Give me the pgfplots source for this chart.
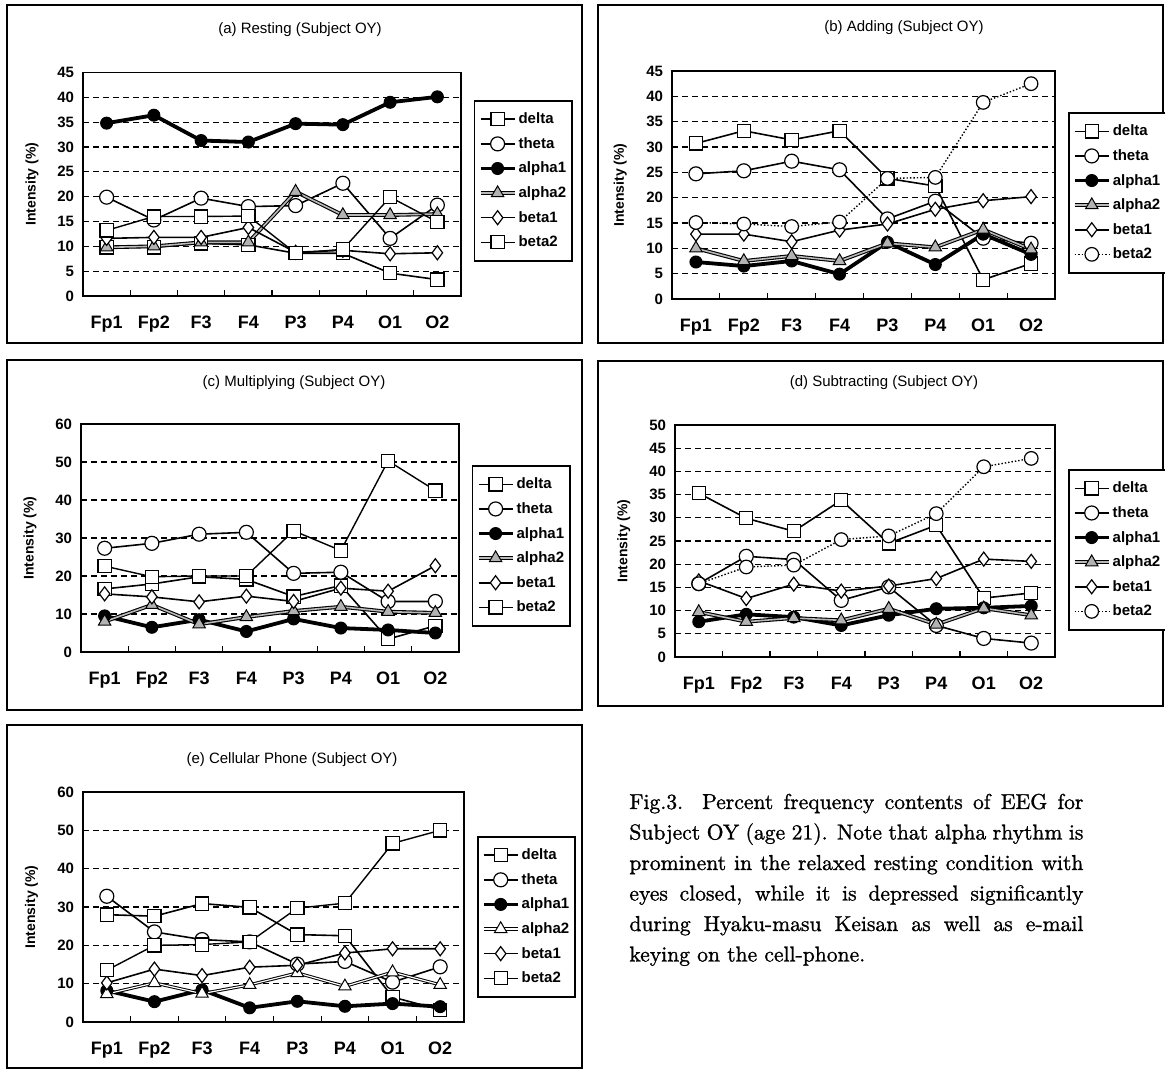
\documentclass[border=0pt]{standalone}
\usepackage{fontspec}
\newfontfamily\sans{Liberation Sans}
\newfontfamily\capfont[FakeBold=1.2]{Latin Modern Roman}
\usepackage{pgfplots}
\usepackage{pgfplotstable}
\pgfplotsset{compat=1.18}

\pgfplotstableread{
x delta theta alphaA alphaB betaA betaB
0 9.8 19.9 34.8 9.8 11.6 13.2
1 9.8 15.3 36.4 10.0 11.8 16.0
2 10.6 19.7 31.3 10.8 11.8 16.0
3 10.3 18.0 31.0 10.8 13.8 16.1
4 8.6 18.2 34.7 21.0 8.8 8.6
5 8.6 22.7 34.5 16.3 9.2 9.4
6 4.6 11.6 39.0 16.3 8.5 19.9
7 3.3 18.3 40.1 16.5 8.7 14.9
}\tabA
\pgfplotstableread{
x delta theta alphaA alphaB betaA betaB
0 30.7 24.7 7.3 10.0 12.8 15.1
1 33.2 25.3 6.5 7.5 12.8 14.8
2 31.4 27.2 7.5 8.5 11.3 14.3
3 33.2 25.5 4.9 7.5 13.6 15.2
4 23.8 15.8 11.2 11.0 14.8 23.8
5 22.3 19.3 6.8 10.2 17.7 24.0
6 3.8 12.0 12.8 13.7 19.4 38.8
7 7.0 11.0 8.8 9.8 20.2 42.5
}\tabB
\pgfplotstableread{
x delta theta alphaA alphaB betaA betaB
0 16.6 27.3 9.5 8.0 15.3 22.6
1 17.9 28.6 6.5 12.4 14.5 19.8
2 19.8 31.0 8.5 7.3 13.2 20.0
3 19.1 31.5 5.4 9.2 14.7 20.0
4 14.6 20.7 8.7 10.8 13.3 31.9
5 17.5 21.0 6.3 11.9 16.8 26.7
6 3.4 13.3 5.8 10.6 16.0 50.3
7 6.9 13.3 5.0 10.3 22.7 42.5
}\tabC
\pgfplotstableread{
x delta theta alphaA alphaB betaA betaB
0 35.3 15.8 7.6 9.7 16.4 15.8
1 29.9 21.7 9.2 7.6 12.6 19.4
2 27.1 21.0 8.6 8.4 15.7 19.8
3 33.8 12.2 6.8 7.9 14.2 25.3
4 24.5 15.1 9.0 10.4 15.3 26.1
5 28.4 6.8 10.4 7.0 16.9 30.9
6 12.7 4.0 10.6 10.5 21.1 41.0
7 13.8 3.0 11.0 9.0 20.6 42.8
}\tabD
\pgfplotstableread{
x delta theta alphaA alphaB betaA betaB
0 28.0 32.8 8.2 7.3 10.2 13.5
1 27.6 23.5 5.3 10.2 13.8 20.0
2 30.9 21.5 8.4 7.4 12.1 20.2
3 29.9 20.9 3.7 9.7 14.3 20.9
4 22.8 15.1 5.4 12.8 14.8 29.7
5 22.5 15.8 4.1 9.3 18.0 31.0
6 6.5 10.4 4.8 13.0 19.1 46.6
7 3.2 14.4 4.0 9.7 19.1 50.0
}\tabE

\pgfplotsset{
  sdelta/.style={black, line width=0.8pt, mark=square*, mark size=3.3pt, mark options={solid, fill=white, line width=0.6pt}},
  stheta/.style={black, line width=0.8pt, mark=*, mark size=3.5pt, mark options={solid, fill=white, line width=0.6pt}},
  salphaA/.style={black, line width=1.9pt, mark=*, mark size=3pt, mark options={solid, fill=black, line width=0.5pt}},
  salphaB/.style={black, line width=0.55pt, double=gray!55, double distance=0.8pt, mark=triangle*, mark size=3.6pt, mark options={solid, fill=gray!60, draw=black, line width=0.5pt}},
  salphaBw/.style={black, line width=0.5pt, double=white, double distance=0.6pt, mark=triangle*, mark size=3.6pt, mark options={solid, fill=white, draw=black, line width=0.5pt}},
  sbetaA/.style={black, line width=0.8pt, mark=diamond*, mark size=3.5pt, mark options={solid, fill=white, line width=0.6pt}},
  sbetaB/.style={black, line width=0.7pt, mark=square*, mark size=3.3pt, mark options={solid, fill=white, line width=0.6pt}},
  sbetaBd/.style={black, line width=0.7pt, densely dotted, mark=*, mark size=3.4pt, mark options={solid, fill=white, line width=0.6pt}},
  eeg/.style={
    scale only axis,
    xmin=-0.5, xmax=7.5, ymin=0,
    xtick={-0.5,0.5,1.5,2.5,3.5,4.5,5.5,6.5,7.5},
    x tick label as interval,
    xticklabels={Fp1,Fp2,F3,F4,P3,P4,O1,O2},
    xtick pos=bottom,
    xtick align=inside,
    major tick length=3pt,
    x tick style={draw=black, line width=0.6pt},
    y tick style={draw=none},
    ymajorgrids,
    y grid style={black, line width=0.6pt, dash pattern=on 3.2pt off 1.8pt},
    axis line style={line width=0.8pt},
    xticklabel style={font=\sans\bfseries\fontsize{9}{10}\selectfont, yshift=-6.5pt},
    yticklabel style={font=\sans\bfseries\fontsize{7.5}{8}\selectfont, /pgf/number format/assume math mode=true, xshift=-1pt},
    ylabel={Intensity (\%)},
    ylabel style={at={(axis description cs:-0.135,0.5)}, anchor=center, font=\sans\bfseries\fontsize{7}{8}\selectfont},
    legend cell align=left,
    legend style={anchor=north west, draw=black, line width=0.8pt,
      font=\sans\bfseries\fontsize{7.5}{8}\selectfont,
      inner xsep=2pt, inner ysep=4.5pt, row sep=2.8pt,
      nodes={inner sep=1pt, text height=6pt, text depth=1.5pt}},
  },
}

\begin{document}
\begin{tikzpicture}
\useasboundingbox (0,0) rectangle (582.5pt,535pt);
% panel frames
\draw[line width=0.8pt] (3.5pt,363.5pt) rectangle (291pt,532.5pt);
\draw[line width=0.8pt] (299pt,363.5pt) rectangle (581.5pt,532.5pt);
\draw[line width=0.8pt] (3.5pt,180pt) rectangle (291pt,355pt);
\draw[line width=0.8pt] (299pt,182pt) rectangle (581.5pt,354.5pt);
\draw[line width=0.8pt] (3.5pt,1pt) rectangle (291pt,172.5pt);

% (a)
\begin{axis}[eeg, at={(41.5pt,387pt)}, anchor=south west, width=189pt, height=111.75pt,
  ymax=45, ytick={0,5,...,45}, legend style={at={(1.034,0.877)}}]
\addplot[sdelta] table[x=x,y=delta]{\tabA};
\addplot[stheta] table[x=x,y=theta]{\tabA};
\addplot[salphaA] table[x=x,y=alphaA]{\tabA};
\addplot[salphaB] table[x=x,y=alphaB]{\tabA};
\addplot[sbetaA] table[x=x,y=betaA]{\tabA};
\addplot[sbetaB] table[x=x,y=betaB]{\tabA};
\legend{delta,theta,alpha1,alpha2,beta1,beta2}
\end{axis}

% (b)
\begin{axis}[eeg, at={(336pt,385.5pt)}, anchor=south west, width=191.5pt, height=114pt,
  ymax=45, ytick={0,5,...,45}, legend style={at={(1.034,0.82)}}]
\addplot[sdelta] table[x=x,y=delta]{\tabB};
\addplot[stheta] table[x=x,y=theta]{\tabB};
\addplot[salphaA] table[x=x,y=alphaA]{\tabB};
\addplot[salphaB] table[x=x,y=alphaB]{\tabB};
\addplot[sbetaA] table[x=x,y=betaA]{\tabB};
\addplot[sbetaBd] table[x=x,y=betaB]{\tabB};
\legend{delta,theta,alpha1,alpha2,beta1,beta2}
\end{axis}

% (c)
\begin{axis}[eeg, at={(40.5pt,209pt)}, anchor=south west, width=189pt, height=114pt,
  ymax=60, ytick={0,10,...,60}, legend style={at={(1.034,0.82)}}]
\addplot[sdelta] table[x=x,y=delta]{\tabC};
\addplot[stheta] table[x=x,y=theta]{\tabC};
\addplot[salphaA] table[x=x,y=alphaA]{\tabC};
\addplot[salphaB] table[x=x,y=alphaB]{\tabC};
\addplot[sbetaA] table[x=x,y=betaA]{\tabC};
\addplot[sbetaB] table[x=x,y=betaB]{\tabC};
\legend{delta,theta,alpha1,alpha2,beta1,beta2}
\end{axis}

% (d)
\begin{axis}[eeg, at={(337.5pt,206.5pt)}, anchor=south west, width=190pt, height=116pt,
  ymax=50, ytick={0,5,...,50}, legend style={at={(1.034,0.81)}}]
\addplot[sdelta] table[x=x,y=delta]{\tabD};
\addplot[stheta] table[x=x,y=theta]{\tabD};
\addplot[salphaA] table[x=x,y=alphaA]{\tabD};
\addplot[salphaB] table[x=x,y=alphaB]{\tabD};
\addplot[sbetaA] table[x=x,y=betaA]{\tabD};
\addplot[sbetaBd] table[x=x,y=betaB]{\tabD};
\legend{delta,theta,alpha1,alpha2,beta1,beta2}
\end{axis}

% (e)
\begin{axis}[eeg, at={(41.5pt,24pt)}, anchor=south west, width=190.5pt, height=115pt,
  ymax=60, ytick={0,10,...,60}, legend style={at={(1.034,0.809)}}]
\addplot[sdelta] table[x=x,y=delta]{\tabE};
\addplot[stheta] table[x=x,y=theta]{\tabE};
\addplot[salphaA] table[x=x,y=alphaA]{\tabE};
\addplot[salphaBw] table[x=x,y=alphaB]{\tabE};
\addplot[sbetaA] table[x=x,y=betaA]{\tabE};
\addplot[sbetaB] table[x=x,y=betaB]{\tabE};
\legend{delta,theta,alpha1,alpha2,beta1,beta2}
\end{axis}

% titles
\begin{scope}[every node/.style={font=\sans\fontsize{7.5}{8}\selectfont, inner sep=0pt}]
\node at (150pt,520pt) {(a) Resting (Subject OY)};
\node at (452pt,521pt) {(b) Adding (Subject OY)};
\node at (147pt,343.5pt) {(c) Multiplying (Subject OY)};
\node at (442pt,343.5pt) {(d) Subtracting (Subject OY)};
\node at (146pt,155pt) {(e) Cellular Phone (Subject OY)};
\end{scope}

% caption
\begin{scope}[every node/.style={font=\capfont\fontsize{10.8}{14}\selectfont, inner sep=0pt, anchor=base west}]
\node at (314.5pt,130.5pt) {\makebox[227pt][s]{Fig.3. Percent frequency contents of EEG for}};
\node at (314.5pt,115.25pt) {\makebox[227pt][s]{Subject OY (age 21). Note that alpha rhythm is}};
\node at (314.5pt,100pt) {\makebox[227pt][s]{prominent in the relaxed resting condition with}};
\node at (314.5pt,84.75pt) {\makebox[227pt][s]{eyes closed, while it is depressed significantly}};
\node at (314.5pt,69.5pt) {\makebox[227pt][s]{during Hyaku-masu Keisan as well as e-mail}};
\node at (314.5pt,54.25pt) {keying on the cell-phone.};
\end{scope}
\end{tikzpicture}
\end{document}
